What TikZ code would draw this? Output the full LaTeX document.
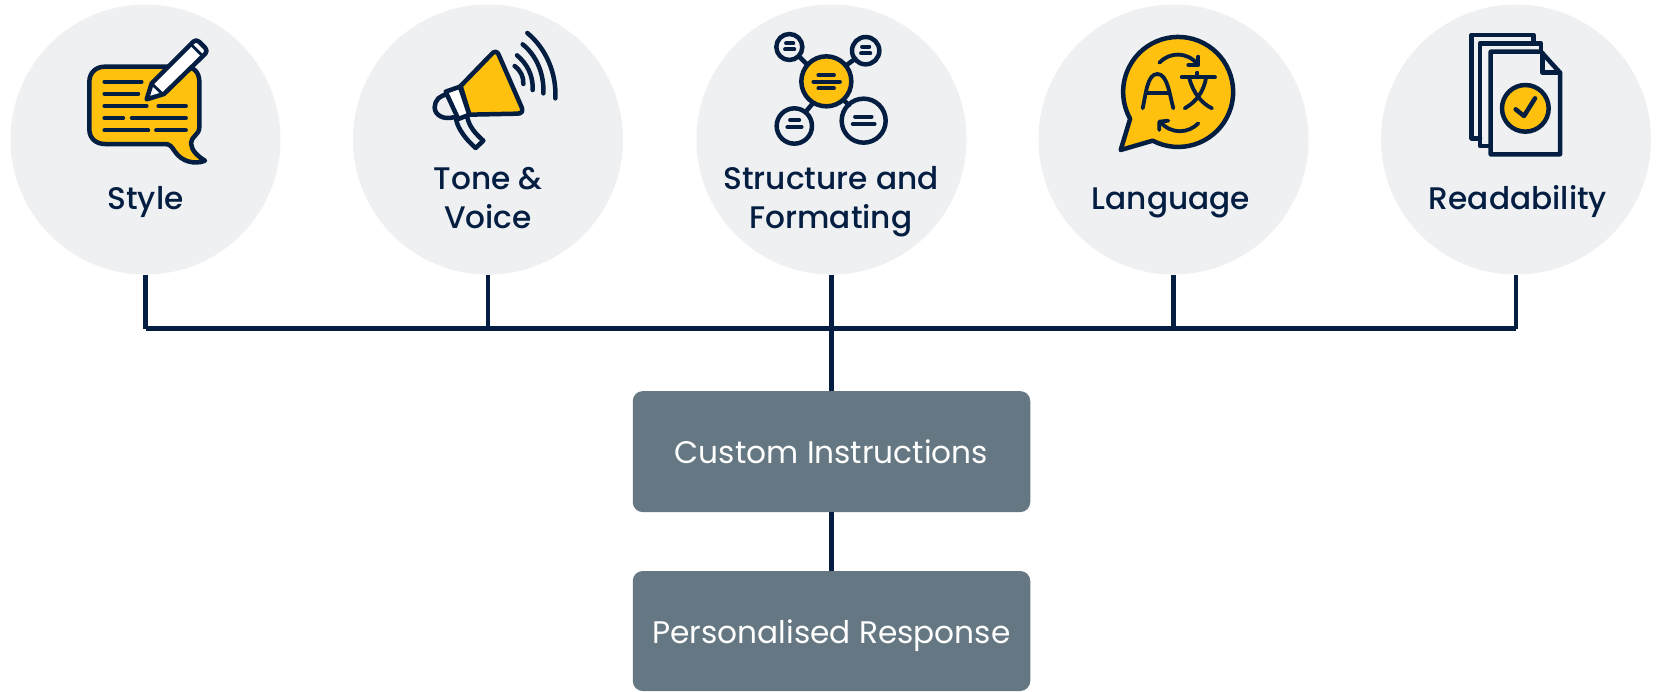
\documentclass[tikz,border=0pt]{standalone}
\usepackage{fontspec}
\setmainfont{Poppins}
\newfontfamily\labfont{Poppins Medium}
\definecolor{navy}{HTML}{041E42}
\definecolor{disc}{HTML}{EEF0F2}
\definecolor{slate}{HTML}{657782}
\definecolor{amber}{HTML}{FFC10E}
\tikzset{
  discnode/.style={circle,fill=disc,draw=none,minimum size=270pt,inner sep=0pt},
  boxnode/.style={rectangle,rounded corners=10pt,fill=slate,draw=none,minimum width=397.5pt,inner sep=0pt,text=white,font=\fontsize{31.2}{36}\selectfont,text height=24pt,text depth=0pt},
  lab/.style={text=navy,align=center,font=\labfont\fontsize{31.2}{39}\selectfont,inner sep=0pt,anchor=base},
  wire/.style={draw=navy,line width=4.4pt},
  ic/.style={draw=navy,line width=4.5pt,line join=round,line cap=round},
  icthin/.style={draw=navy,line width=3.8pt,line cap=round,line join=round},
}
\begin{document}
\begin{tikzpicture}[x=1pt,y=-1pt]
\useasboundingbox (0,0) rectangle (1657,691);
\fill[white] (0,0) rectangle (1657,691);
% discs
\node[discnode] (c1) at (145.5,139.5) {};
\node[discnode] (c2) at (488,139.5) {};
\node[discnode] (c3) at (831.5,139.5) {};
\node[discnode] (c4) at (1173.5,139.5) {};
\node[discnode] (c5) at (1516,139.5) {};
% boxes
\node[boxnode,minimum height=121pt] (b1) at (831.5,451.6) {Custom Instructions};
\node[boxnode,minimum height=120pt] (b2) at (831.5,631) {Personalised Response};
% bus
\coordinate (j1) at (c1.center |- 0,328.6);
\coordinate (j2) at (c2.center |- 0,328.6);
\coordinate (j3) at (c3.center |- 0,328.6);
\coordinate (j4) at (c4.center |- 0,328.6);
\coordinate (j5) at (c5.center |- 0,328.6);
\draw[wire] (j1) -- (j5);
\draw[wire] (c1.south) -- (j1);
\draw[wire] (c2.south) -- (j2);
\draw[wire] (c4.south) -- (j4);
\draw[wire] (c5.south) -- (j5);
\draw[wire] (c3.south) -- (b1.north);
\draw[wire] (b1.south) -- (b2.north);
% labels
\node[lab] (l1) at (145.5,209) {Style};
\node[lab] (l2) at (488,228) {Tone \&\\Voice};
\node[lab] (l3) at (831,228) {Structure and\\Formating};
\node[lab] (l4) at (1171,209) {Language};
\node[lab] (l5) at (1518,209) {Readability};
% icon 1: speech bubble and pencil
\begin{scope}[shift={(60,20)},scale=1/3]
\draw[ic,fill=amber] (135,140) -- (375,140) .. controls (402,140) and (418,158) .. (418,185) -- (418,322)
  .. controls (418,345) and (392,350) .. (393,370) .. controls (394,392) and (415,410) .. (435,422)
  .. controls (405,435) and (365,425) .. (345,395) .. controls (335,380) and (330,372) .. (315,372)
  -- (135,372) .. controls (108,372) and (88,355) .. (88,328) -- (88,185) .. controls (88,158) and (108,140) .. (135,140) -- cycle;
\foreach \xa/\xb/\yy in {133/245/185,133/235/221,133/260/258,295/378/258,133/190/294,215/378/294,133/265/331,288/378/331}
  \draw[icthin] (\xa,\yy) -- (\xb,\yy);
\draw[ic,fill=white] (260,238) -- (275,190) -- (400,65) .. controls (405,60) and (412,60) .. (417,65) -- (436,84)
  .. controls (441,89) and (441,96) .. (436,101) -- (312,222) -- cycle;
\draw[icthin,line width=2.8pt] (392,72) -- (428,108);
\draw[icthin,line width=2.8pt] (276,192) -- (310,224);
\end{scope}
% icon 2: megaphone
\begin{scope}[shift={(410,20)},scale=1/3]
\draw[ic,fill=none] (115,225) .. controls (90,222) and (74,242) .. (74,262) .. controls (74,285) and (100,300) .. (130,292);
\draw[ic,fill=none] (138,298) .. controls (145,330) and (170,360) .. (197,384) -- (220,362) .. controls (195,340) and (178,320) .. (172,292);
\draw[ic,fill=amber] (152,198) -- (245,102) .. controls (253,92) and (262,94) .. (266,104) -- (335,262) .. controls (340,274) and (335,281) .. (322,281) -- (178,284) -- cycle;
\draw[ic,fill=white] (107,215) -- (150,200) -- (178,284) -- (145,297) -- cycle;
\draw[ic] (314,138) .. controls (332,152) and (341,170) .. (340,192);
\draw[ic] (321,106) .. controls (350,130) and (370,165) .. (368,210);
\draw[ic] (338,73) .. controls (378,105) and (403,160) .. (400,220);
\draw[ic] (352,39) .. controls (408,85) and (440,160) .. (436,235);
\end{scope}
% icon 3: mind map
\begin{scope}[shift={(750,20)},scale=1/3]
\draw[ic] (150,112) -- (172,134);
\draw[ic] (290,135) -- (316,116);
\draw[ic] (170,272) -- (190,248);
\draw[ic] (280,240) -- (297,255);
\draw[ic,fill=amber] (229,184) circle[radius=75];
\draw[ic] (118,81) circle[radius=39];
\draw[ic] (347,92) circle[radius=41];
\draw[ic] (133,318) circle[radius=53];
\draw[ic] (341,302) circle[radius=66];
\foreach \xa/\xb/\yy in {205/252/165,190/270/185,205/252/205,108/130/70,105/133/88,336/358/80,333/361/100,120/148/300,112/155/321,315/365/290,308/374/312}
  \draw[icthin] (\xa,\yy) -- (\xb,\yy);
\end{scope}
% icon 4: language bubble
\begin{scope}[shift={(1100,50)},scale=1/3]
\draw[ic,fill=amber] (158,272) arc[start angle=117.6,end angle=-209.2,radius=165] -- (62,300) -- cycle;
\draw[icthin] (128,175) .. controls (138,130) and (142,72) .. (172,72) .. controls (202,72) and (208,130) .. (220,175);
\draw[icthin] (143,128) -- (205,128);
\draw[icthin] (292,68) -- (292,82);
\draw[icthin] (245,82) -- (345,82);
\draw[icthin] (268,85) .. controls (280,130) and (305,160) .. (336,175);
\draw[icthin] (318,85) .. controls (310,125) and (290,155) .. (254,175);
\draw[icthin] (178,38) .. controls (210,5) and (260,5) .. (293,42);
\draw[icthin] (265,45) -- (295,45) -- (295,20);
\draw[icthin] (295,220) .. controls (265,250) and (215,255) .. (180,215);
\draw[icthin] (205,212) -- (178,215) -- (178,240);
\end{scope}
% icon 5: documents
\begin{scope}[shift={(1450,20)},scale=1/3]
\draw[ic] (250,68) -- (250,45) -- (65,45) -- (65,355) -- (90,355);
\draw[ic] (273,95) -- (273,70) -- (90,70) -- (90,378) -- (122,378);
\draw[ic] (122,95) -- (273,95) -- (330,158) -- (330,403) -- (122,403) -- cycle;
\draw[ic] (277,100) -- (277,158) -- (330,158);
\draw[ic,fill=amber] (226,265) circle[radius=70];
\draw[ic] (197,268) -- (222,288) -- (255,235);
\end{scope}
\end{tikzpicture}
\end{document}
